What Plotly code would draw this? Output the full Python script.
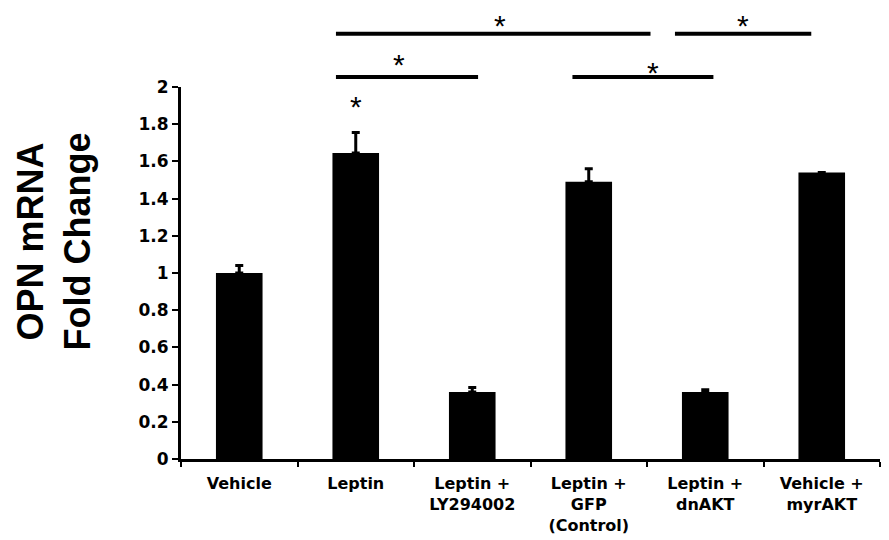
import plotly.graph_objects as go

categories = ["Vehicle", "Leptin", "Leptin +<br>LY294002", "Leptin +<br>GFP<br>(Control)",
              "Leptin +<br>dnAKT", "Vehicle +<br>myrAKT"]
values = [1.0, 1.645, 0.36, 1.49, 0.36, 1.54]
errors = [0.04, 0.11, 0.025, 0.07, 0.012, float("nan")]
y_ticks = [0, 0.2, 0.4, 0.6, 0.8, 1, 1.2, 1.4, 1.6, 1.8, 2]
y_ticklabels = ["0", "0.2", "0.4", "0.6", "0.8", "1", "1.2", "1.4", "1.6", "1.8", "2"]

# significance brackets: (start index, end index, level)
brackets = [(0.83, 3.53, "upper"), (3.74, 4.91, "upper"), (0.83, 2.05, "lower"), (2.86, 4.07, "lower")]
bracket_stars = [2.24, 4.32, 1.37, 3.55]

fig = go.Figure()
fig.add_trace(go.Bar(
    x=categories, y=values, width=0.4,
    marker=dict(color="black", line=dict(width=0)),
    error_y=dict(type="data", symmetric=False, array=errors, arrayminus=[0]*len(errors),
                 color="black", thickness=3, width=4),
))

level_y = {"upper": 1.143, "lower": 1.027}
star_shift = {0: -10, 1: -10, 2: -6, 3: -14}
for i, ((x0, x1, lvl), xs) in enumerate(zip(brackets, bracket_stars)):
    y = level_y[lvl]
    fig.add_shape(type="line", xref="x", yref="paper", x0=x0, x1=x1, y0=y, y1=y,
                  line=dict(color="black", width=4))
    fig.add_annotation(x=xs, y=y, xref="x", yref="paper", text="*", showarrow=False,
                       yanchor="bottom", yshift=star_shift[i],
                       font=dict(size=30, color="black", family="Liberation Sans"))

# star above Leptin bar
fig.add_annotation(x=1, y=values[1] + errors[1], xref="x", yref="y", text="*", showarrow=False,
                   yanchor="bottom", yshift=8,
                   font=dict(size=30, color="black", family="Liberation Sans"))

# y-axis title
fig.add_annotation(x=-0.181, y=0.586, xref="paper", yref="paper", text="OPN mRNA<br>Fold Change",
                   textangle=-90, showarrow=False, xanchor="center", yanchor="middle",
                   font=dict(size=36, weight="bold", color="black", family="Liberation Sans"))

fig.update_layout(
    width=889, height=540,
    margin=dict(l=173, r=17, t=79, b=89),
    paper_bgcolor="white", plot_bgcolor="white",
    showlegend=False,
    font=dict(family="DejaVu Sans", color="black"),
    xaxis=dict(
        type="category", tickson="boundaries", ticks="outside", ticklen=5, tickwidth=2,
        tickcolor="black", showline=True, linecolor="black", linewidth=3,
        tickfont=dict(size=16, weight="bold", color="black", family="DejaVu Sans"), showgrid=False,
        range=[-0.5, 5.5], automargin=False, ticklabelstandoff=8,
    ),
    yaxis=dict(
        range=[0, 2], tickvals=y_ticks, ticktext=y_ticklabels, ticks="outside", ticklen=6,
        tickwidth=2, tickcolor="black", showline=True, linecolor="black", linewidth=3,
        tickfont=dict(size=17, weight="bold", color="black", family="DejaVu Sans"), showgrid=False,
        zeroline=False, automargin=False,
    ),
)

fig.write_html("out.html")
